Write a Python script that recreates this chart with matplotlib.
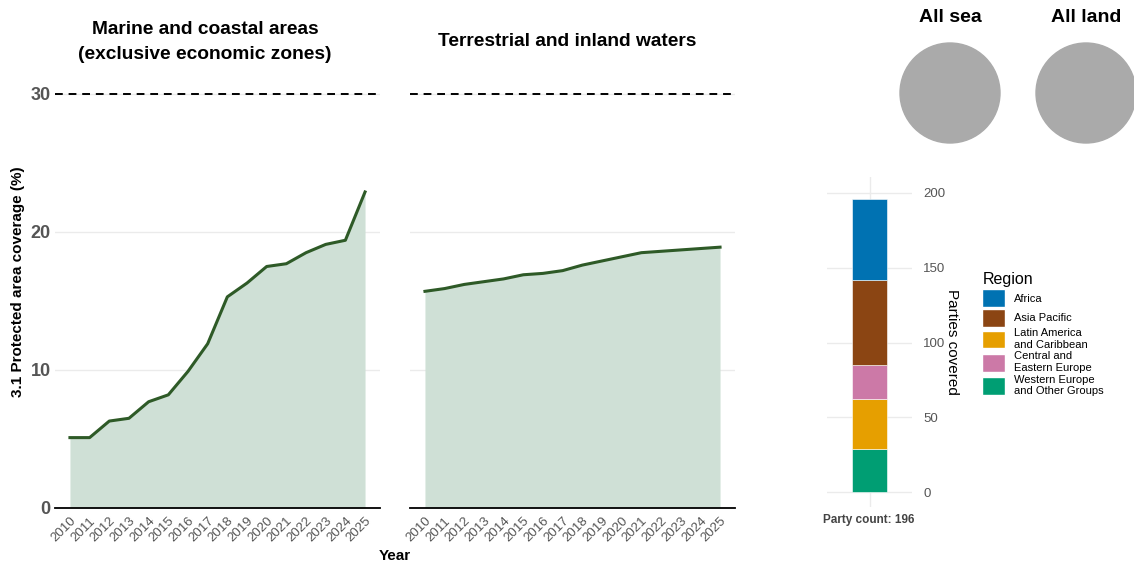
import matplotlib.pyplot as plt
from matplotlib.patches import Circle, Patch

years = list(range(2010, 2026))
marine = [5.1, 5.1, 6.3, 6.5, 7.7, 8.2, 9.9, 11.9, 15.3, 16.3, 17.5, 17.7, 18.5, 19.1, 19.4, 22.9]
terrestrial = [15.7, 15.9, 16.2, 16.4, 16.6, 16.9, 17.0, 17.2, 17.6, 17.9, 18.2, 18.5, 18.6, 18.7, 18.8, 18.9]
target = 30

# stacked bottom to top
regions = ["Western Europe\nand Other Groups", "Latin America\nand Caribbean",
           "Central and\nEastern Europe", "Asia Pacific", "Africa"]
region_counts = [29, 33, 23, 57, 54]
region_colors = ["#009E73", "#E69F00", "#CC79A7", "#8B4513", "#0072B2"]
legend_order = [4, 3, 1, 2, 0]

plt.rcParams["font.family"] = ["Liberation Sans", "DejaVu Sans"]

line_col = "#2e5a27"
fill_col = "#cfe0d6"
tick_col = "#555555"

fig = plt.figure(figsize=(11.34, 5.63), dpi=100)
W, H = 1134, 563


def panel(left, values):
    ax = fig.add_axes([left / W, 55 / H, 325 / W, 0.8576 - 55 / H])
    ax.fill_between(years, 0, values, color=fill_col, lw=0)
    ax.plot(years, values, color=line_col, lw=2.2)
    ax.axhline(target, color="black", ls=(0, (4, 3)), lw=1.4)
    ax.set_xlim(2009.24, 2025.76)
    ax.set_ylim(0, 31)
    ax.set_yticks([0, 10, 20, 30])
    ax.grid(axis="y", color="#ebebeb", lw=1)
    ax.set_axisbelow(True)
    for s in ["top", "right", "left"]:
        ax.spines[s].set_visible(False)
    ax.spines["bottom"].set_linewidth(1.3)
    ax.set_xticks(years)
    ax.set_xticklabels(years, rotation=45, ha="right", rotation_mode="anchor",
                       color=tick_col, fontsize=9.5)
    ax.tick_params(length=0, pad=3)
    ax.tick_params(axis="x", pad=5)
    return ax


ax1 = panel(55, marine)
ax1.set_yticklabels(["0", "10", "20", "30"], fontsize=13, fontweight="bold", color=tick_col)
ax1.set_ylabel("3.1 Protected area coverage (%)", fontsize=11, fontweight="bold", labelpad=4, y=0.53)
ax2 = panel(410, terrestrial)
ax2.set_yticklabels([])
fig.text(205 / W, 1 - 42 / H, "Marine and coastal areas\n(exclusive economic zones)", ha="center",
         va="center", fontsize=13.8, fontweight="bold", linespacing=1.55)
fig.text(567 / W, 1 - 42 / H, "Terrestrial and inland waters", ha="center", va="center",
         fontsize=13.8, fontweight="bold")
fig.text(395 / W, 1 - 556 / H, "Year", ha="center", va="center", fontsize=11, fontweight="bold")

# party count bar
axb = fig.add_axes([827 / W, 56 / H, 85 / W, 330 / H])
bottom = 0
for n, c in zip(region_counts, region_colors):
    axb.bar(0, n, bottom=bottom, width=0.5, color=c, edgecolor="white", lw=0.4)
    bottom += n
axb.set_xlim(-0.6, 0.6)
axb.set_ylim(-9.8, 210.5)
axb.set_yticks([0, 50, 100, 150, 200])
axb.set_xticks([0])
axb.set_xticklabels([""])
axb.grid(color="#ebebeb", lw=1)
axb.set_axisbelow(True)
for s in axb.spines.values():
    s.set_visible(False)
axb.yaxis.tick_right()
axb.yaxis.set_label_position("right")
axb.tick_params(length=0, labelsize=9.5, labelcolor=tick_col, pad=8)
axb.set_ylabel("Parties covered", rotation=-90, fontsize=11, labelpad=10)
fig.text(869 / W, 1 - 520 / H, "Party count: " + str(sum(region_counts)), ha="center",
         va="center", fontsize=8.5, fontweight="bold", color="#444444")

handles = [Patch(facecolor=region_colors[i], edgecolor="white", label=regions[i])
           for i in legend_order]
leg = fig.legend(handles=handles, title="Region", loc="upper left",
                 bbox_to_anchor=(978 / W, 1 - 268 / H), frameon=False, fontsize=8,
                 title_fontsize=11.5, handlelength=2.0, handleheight=2.1,
                 labelspacing=0.15, handletextpad=0.8, borderaxespad=0)
leg._legend_box.align = "left"

# all sea / all land circles
for cx, label in [(950, "All sea"), (1086, "All land")]:
    axc = fig.add_axes([(cx - 52) / W, 1 - 145 / H, 104 / W, 104 / H])
    axc.add_patch(Circle((0, 0), 1, color="#aaaaaa"))
    axc.set_xlim(-1.04, 1.04)
    axc.set_ylim(-1.04, 1.04)
    axc.axis("off")
    fig.text(cx / W, 1 - 18 / H, label, ha="center", va="center", fontsize=14, fontweight="bold")

fig.savefig("out.png", dpi=100)
